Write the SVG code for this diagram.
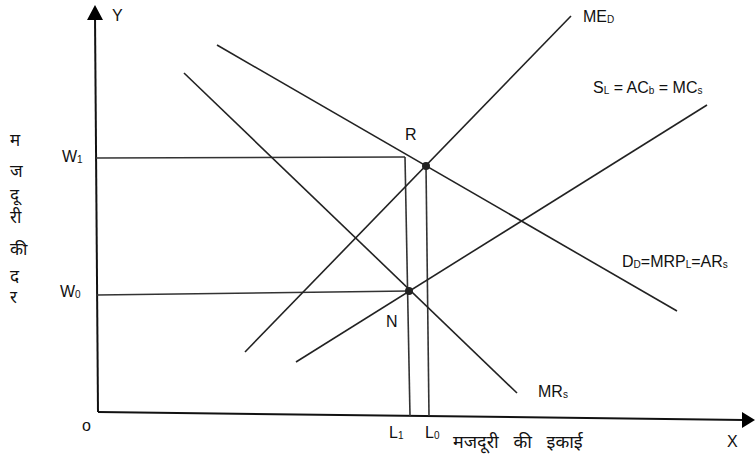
<svg xmlns="http://www.w3.org/2000/svg" width="755" height="459" viewBox="0 0 755 459">
<style>
.ax{stroke:#111;stroke-width:2;fill:none}
.cv{stroke:#222;stroke-width:1.6;fill:none}
.dr{stroke:#333;stroke-width:1.6;fill:none}
.t{font-family:"Liberation Sans",Arial,sans-serif;font-size:16px;fill:#111}
.s{font-size:10px}
.h{font-family:"Noto Sans","Noto Sans Devanagari","Lohit Devanagari",sans-serif;font-size:17px;fill:#111}
</style>
<rect width="755" height="459" fill="#fff"/>
<g id="axes">
<line class="ax" x1="95" y1="16" x2="98" y2="412"/>
<polygon points="95,5 87,20 103,20" fill="#000"/>
<line class="ax" x1="98" y1="412" x2="744" y2="420"/>
<polygon points="755,420 742,412 742,428" fill="#000"/>
<text class="t" x="112" y="21">Y</text>
<text class="t" x="727" y="447">X</text>
<text class="t" x="82" y="431">o</text>
</g>
<g id="connectors">
<line class="dr" x1="96" y1="158" x2="405" y2="157"/>
<line class="dr" x1="97" y1="295" x2="409" y2="291"/>
<line class="dr" x1="405" y1="157" x2="410" y2="416"/>
<line class="dr" x1="426" y1="166" x2="429" y2="416"/>
<line class="cv" x1="245" y1="352" x2="571" y2="16"/>
<line class="cv" x1="296" y1="362" x2="707" y2="105"/>
<line class="cv" x1="217" y1="45" x2="677" y2="311"/>
<line class="cv" x1="184" y1="73" x2="517" y2="393"/>
</g>
<g id="R">
<circle cx="426" cy="166" r="4" fill="#222"/>
<text class="t" x="405" y="140">R</text>
</g>
<g id="N">
<circle cx="409" cy="291" r="4" fill="#222"/>
<text class="t" x="386" y="327">N</text>
</g>
<g id="labels">
<text class="t" x="62" y="162">W<tspan class="s" dy="1">1</tspan></text>
<text class="t" x="60" y="297">W<tspan class="s" dy="1">0</tspan></text>
<text class="t" x="389" y="438">L<tspan class="s" dy="1">1</tspan></text>
<text class="t" x="425" y="438">L<tspan class="s" dy="1">0</tspan></text>
<text class="t" x="583" y="22">ME<tspan class="s" dy="1">D</tspan></text>
<text class="t" x="593" y="93">S<tspan class="s" dy="1">L</tspan><tspan dy="-1"> = AC</tspan><tspan class="s" dy="1">b</tspan><tspan dy="-1"> = MC</tspan><tspan class="s" dy="1">s</tspan></text>
<text class="t" x="622" y="267">D<tspan class="s" dy="1">D</tspan><tspan dy="-1">=MRP</tspan><tspan class="s" dy="1">L</tspan><tspan dy="-1">=AR</tspan><tspan class="s" dy="1">s</tspan></text>
<text class="t" x="538" y="397">MR<tspan class="s" dy="1">s</tspan></text>
<text class="h" x="453" y="448" style="font-size:18px;word-spacing:10px">मजदूरी की इकाई</text>
<g class="h">
<text x="10" y="146">म</text>
<text x="10" y="177">ज</text>
<text x="10" y="200">दू</text>
<text x="10" y="223">री</text>
<text x="10" y="255">की</text>
<text x="10" y="282">द</text>
<text x="10" y="303">र</text>
</g>
</g>
</svg>
